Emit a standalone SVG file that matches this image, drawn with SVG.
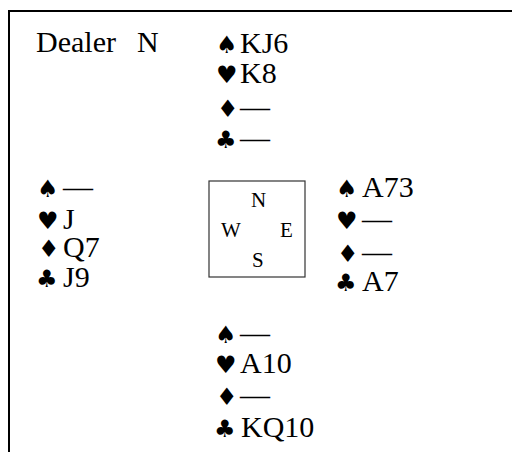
<svg xmlns="http://www.w3.org/2000/svg" width="512" height="452" viewBox="0 0 512 452">
<style>
text{fill:#000}
.t{font-family:'Liberation Serif','Times New Roman',Times,'DejaVu Serif',serif;font-size:30px}
.s{font-family:'DejaVu Sans',sans-serif;font-size:24px}
.c{font-family:'Liberation Serif','Times New Roman',Times,'DejaVu Serif',serif;font-size:21px}
</style>
<rect width="512" height="452" fill="#fff"/>
<g id="frame" fill="none" stroke="#000" stroke-width="2">
<path d="M9 452V11H512"/>
</g>
<g id="dealer"><text class="t" font-family="Liberation Serif, serif" x="36" y="52">Dealer</text><text class="t" x="137" y="52">N</text></g>
<g id="north">
<text class="s" x="216" y="53">♠</text><text class="t" x="240" y="53">KJ6</text>
<text class="s" x="216" y="83">♥</text><text class="t" x="240" y="83">K8</text>
<text class="s" x="217" y="117">♦</text><text class="t" x="240" y="117">—</text>
<text class="s" x="215" y="148">♣</text><text class="t" x="240" y="148">—</text>
</g>
<g id="west">
<text class="s" x="37" y="197">♠</text><text class="t" x="63" y="197">—</text>
<text class="s" x="37" y="229">♥</text><text class="t" x="63" y="229">J</text>
<text class="s" x="38" y="257">♦</text><text class="t" x="63" y="257">Q7</text>
<text class="s" x="36" y="287">♣</text><text class="t" x="63" y="287">J9</text>
</g>
<g id="compass">
<rect x="209" y="181" width="96" height="96" fill="none" stroke="#333" stroke-width="1.2"/>
<text class="c" x="251" y="207">N</text>
<text class="c" x="221" y="237">W</text>
<text class="c" x="280" y="237">E</text>
<text class="c" x="252" y="267">S</text>
</g>
<g id="east">
<text class="s" x="336" y="197">♠</text><text class="t" x="362" y="197">A73</text>
<text class="s" x="336" y="229">♥</text><text class="t" x="362" y="229">—</text>
<text class="s" x="337" y="262">♦</text><text class="t" x="362" y="262">—</text>
<text class="s" x="335" y="291">♣</text><text class="t" x="362" y="291">A7</text>
</g>
<g id="south">
<text class="s" x="215" y="343">♠</text><text class="t" x="240" y="343">—</text>
<text class="s" x="215" y="373">♥</text><text class="t" x="240" y="373">A10</text>
<text class="s" x="216" y="405">♦</text><text class="t" x="240" y="405">—</text>
<text class="s" x="214" y="437">♣</text><text class="t" x="241" y="437">KQ10</text>
</g>
<g id="connectors"/>
</svg>
